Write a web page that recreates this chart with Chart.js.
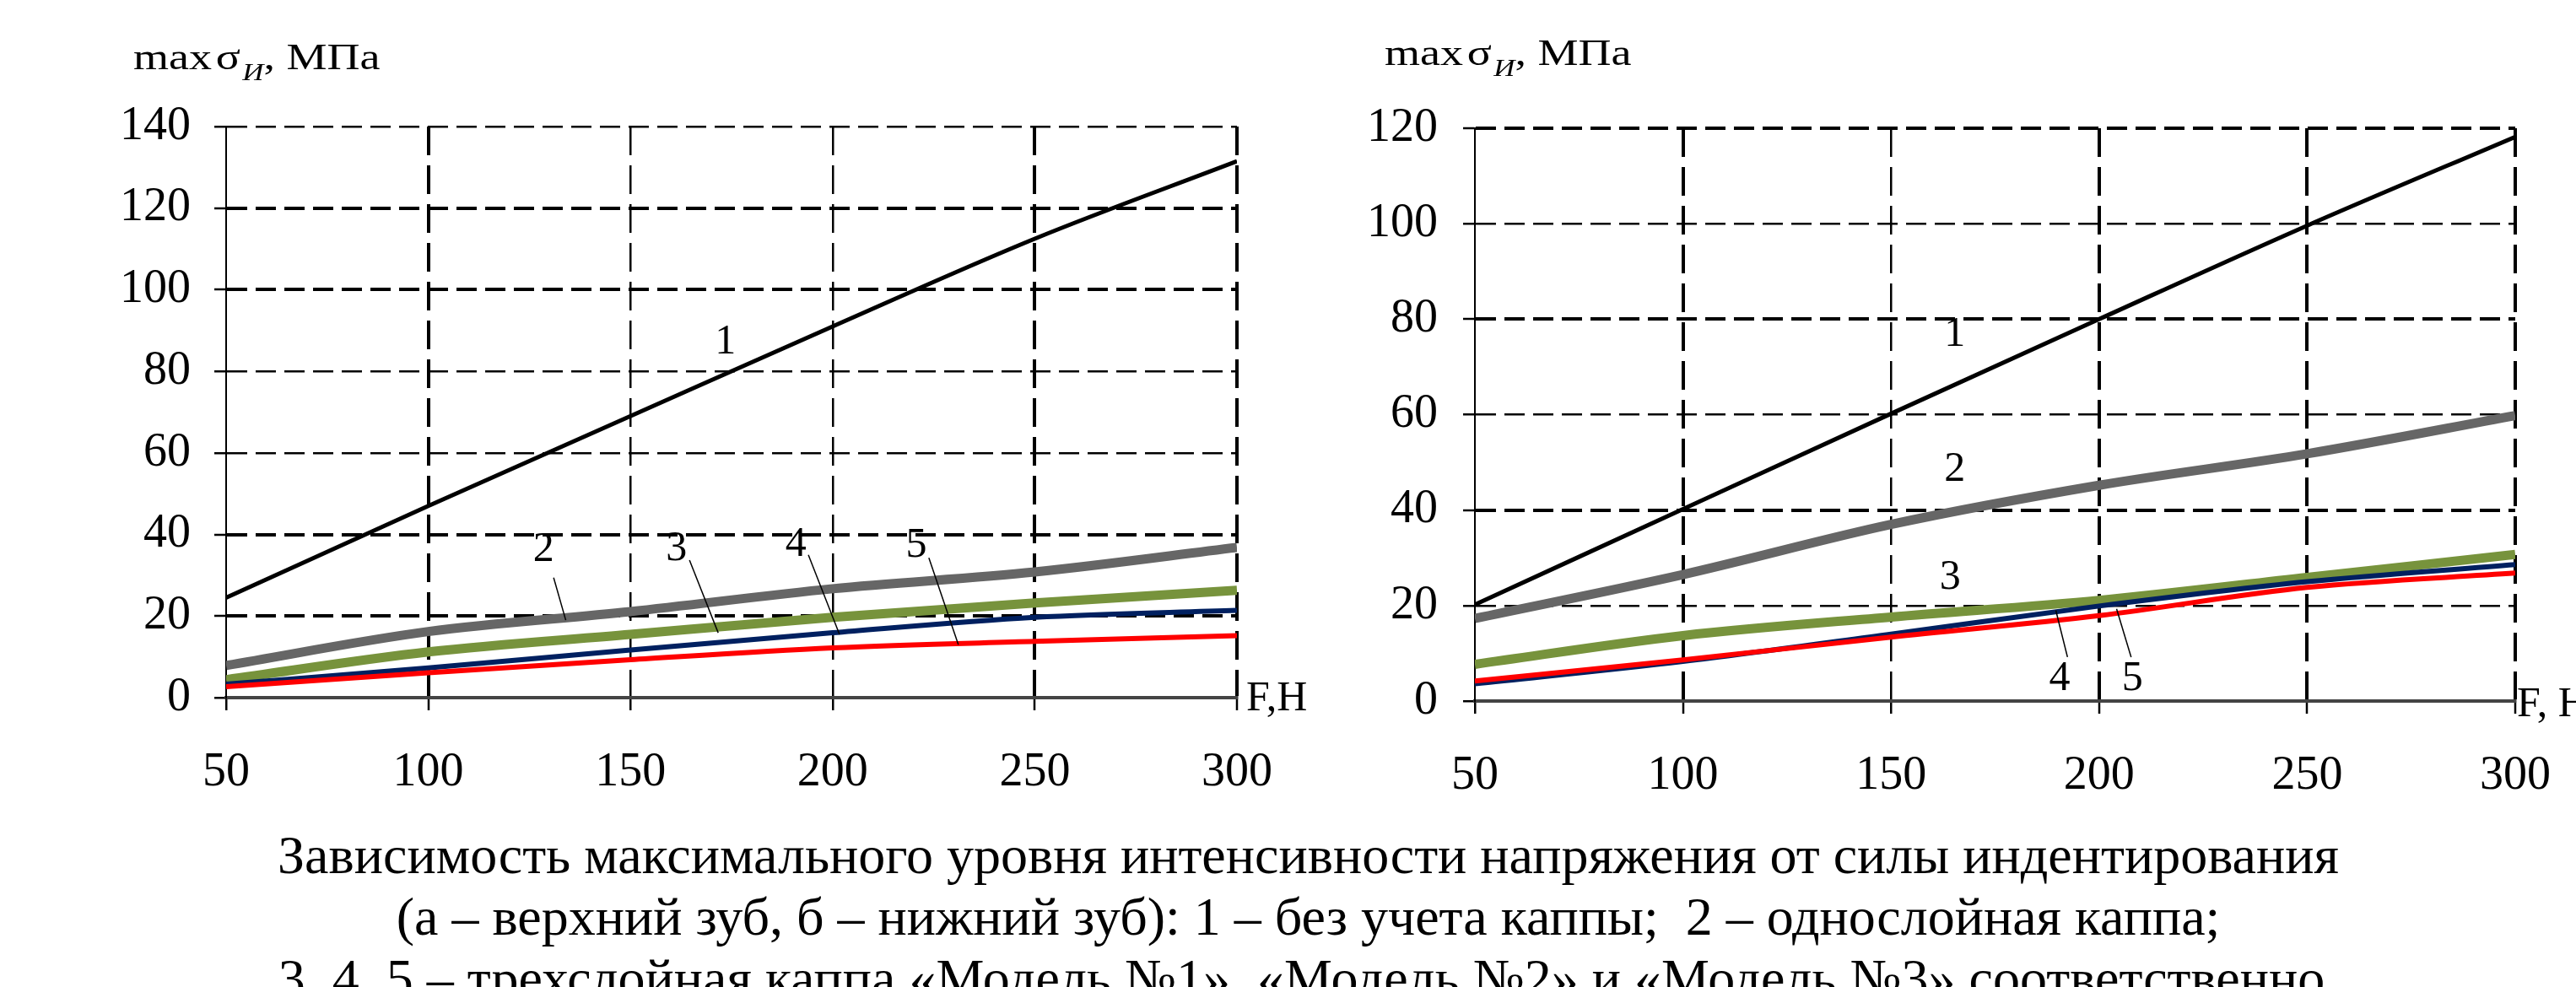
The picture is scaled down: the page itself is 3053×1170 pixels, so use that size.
<!DOCTYPE html>
<html>
<head>
<meta charset="utf-8">
<script src="https://cdn.jsdelivr.net/npm/chart.js@4.4.0/dist/chart.umd.min.js"></script>
<style>
  html, body { margin: 0; padding: 0; background: #fff; }
  body { width: 3053px; height: 1170px; position: relative; overflow: hidden;
         font-family: 'Liberation Serif', 'Times New Roman', serif; color: #000; }
  canvas { position: absolute; top: 0; }
  #upper { left: 0; }
  #lower { left: 1530px; }
  .cap { position: absolute; left: 24px; width: 3053px; text-align: center; font-size: 64px;
         line-height: 1; white-space: pre; }
</style>
</head>
<body>
<canvas id="upper" width="1620" height="960"></canvas>
<canvas id="lower" width="1523" height="960"></canvas>
<div class="cap" style="top:982px">Зависимость максимального уровня интенсивности напряжения от силы индентирования</div>
<div class="cap" style="top:1055px">(а – верхний зуб, б – нижний зуб): 1 – без учета каппы;  2 – однослойная каппа;</div>
<div class="cap" style="top:1128px">3, 4, 5 – трехслойная каппа «Модель №1», «Модель №2» и «Модель №3» соответственно.</div>

<script>
// Force F, N (x axis) and tick values
const forces = [50, 100, 150, 200, 250, 300];
const curveNames = ['1', '2', '3', '4', '5'];

// (а) upper tooth, max stress intensity, MPa
const upperNoCap     = [24.5, 47, 69, 91, 112.5, 131.5];
const upperOneLayer  = [7.9, 16.2, 21.1, 26.7, 30.8, 36.8];
const upperModel1    = [4.4, 11.2, 15.5, 19.7, 23.2, 26.3];
const upperModel2    = [3.3, 7.3, 11.7, 15.9, 19.7, 21.4];
const upperModel3    = [2.7, 6.1, 9.3, 12.2, 13.8, 15.2];

// (б) lower tooth, max stress intensity, MPa
const lowerNoCap     = [20.2, 40.2, 60.2, 80, 99.6, 118.2];
const lowerOneLayer  = [17.3, 26.5, 37, 45.2, 51.8, 59.8];
const lowerModel1    = [7.7, 13.7, 17.6, 21.1, 25.9, 30.7];
const lowerModel2    = [3.6, 8.3, 14, 19.9, 25, 28.6];
const lowerModel3    = [4.2, 8.6, 13.4, 17.9, 23.8, 26.8];

const LINE_STYLES = [
  { color: '#000000', width: 5 },
  { color: '#666666', width: 11 },
  { color: '#77933C', width: 11 },
  { color: '#002060', width: 6 },
  { color: '#FF0000', width: 6 },
];

const SERIF = "'Liberation Serif', 'Times New Roman', serif";

// Curve numbers and their leader lines, in data units
const upperLabels = {
  marks: [[173.5, 87, '1'], [128.5, 36.2, '2'], [161.4, 36.4, '3'], [190.9, 37.4, '4'], [220.7, 37.2, '5']],
  leaders: [[131, 29.4, 134, 19], [164.6, 33.7, 171.7, 15.9], [194, 35, 201.7, 15.5], [223.8, 34.3, 231.1, 13]],
};
const lowerLabels = {
  marks: [[165.3, 76.8, '1'], [165.3, 48.4, '2'], [164.2, 25.9, '3'], [190.5, 4.6, '4'], [208, 4.6, '5']],
  leaders: [[189.6, 19, 192.4, 9.2], [204.2, 19.3, 207.7, 9.2]],
};

// Draws curve numbers, leader lines, the y title and the F axis name.
const annotations = {
  id: 'annotations',
  afterDatasetsDraw(chart, args, opts) {
    const { ctx, chartArea } = chart;
    const xs = chart.scales.x, ys = chart.scales.y;
    ctx.save();
    ctx.fillStyle = '#000';
    ctx.strokeStyle = '#000';
    ctx.lineWidth = 1.5;
    opts.leaders.forEach(([x1, y1, x2, y2]) => {
      ctx.beginPath();
      ctx.moveTo(xs.getPixelForValue(x1), ys.getPixelForValue(y1));
      ctx.lineTo(xs.getPixelForValue(x2), ys.getPixelForValue(y2));
      ctx.stroke();
    });
    ctx.font = `50px ${SERIF}`;
    ctx.textAlign = 'center';
    ctx.textBaseline = 'middle';
    opts.marks.forEach(([x, y, t]) => {
      ctx.fillText(t, xs.getPixelForValue(x), ys.getPixelForValue(y));
    });

    // F axis name at the end of the x axis
    ctx.textAlign = 'left';
    ctx.textBaseline = 'alphabetic';
    ctx.font = `50px ${SERIF}`;
    ctx.fillText(opts.fName, chartArea.right + opts.fDx, chartArea.bottom + opts.fDy);

    // y title: max σ_И, МПа
    ctx.translate(opts.titleX, opts.titleY);
    ctx.scale(1.2, 1);
    ctx.font = `45px ${SERIF}`;
    ctx.fillText('max', 0, 0);
    let w = ctx.measureText('max').width + 4;
    ctx.fillText('σ', w, 0);
    w += ctx.measureText('σ').width + 2;
    ctx.font = `italic 29px ${SERIF}`;
    ctx.fillText('И', w, 13);
    w += ctx.measureText('И').width;
    ctx.font = `45px ${SERIF}`;
    ctx.fillText(', МПа', w, 0);
    ctx.restore();
  }
};

function noPadding(s) {
  s.paddingLeft = 0; s.paddingRight = 0; s.paddingTop = 0; s.paddingBottom = 0;
}

function makeChart(id, series, yMax, cfg) {
  const datasets = series.map((vals, i) => ({
    label: curveNames[i],
    data: forces.map((f, j) => ({ x: f, y: vals[j] })),
    borderColor: LINE_STYLES[i].color,
    borderWidth: LINE_STYLES[i].width,
    pointRadius: 0,
    cubicInterpolationMode: 'monotone',
    order: series.length - i,
  }));
  const tickFont = { family: SERIF, size: 56 };
  return new Chart(document.getElementById(id), {
    type: 'line',
    data: { datasets },
    plugins: [annotations],
    options: {
      responsive: false,
      animation: false,
      events: [],
      layout: { padding: { top: cfg.top, right: cfg.right, left: 0, bottom: 0 } },
      plugins: {
        legend: { display: false },
        tooltip: { enabled: false },
        annotations: cfg.labels,
      },
      scales: {
        x: {
          type: 'linear', min: 50, max: 300,
          afterFit: s => { s.height = cfg.xHeight; noPadding(s); },
          ticks: { stepSize: 50, font: tickFont, color: '#000', padding: cfg.xPad, maxRotation: 0 },
          grid: {
            color: c => c.tick && c.tick.value === 50 ? 'rgba(0,0,0,0)' : '#000',
            lineWidth: c => c.tick && cfg.boldX.includes(c.tick.value) ? 4 : 2.5,
            tickColor: '#000', tickWidth: 2.5, tickLength: 15,
          },
          border: { display: true, color: '#444', width: 4, dash: [34, 12] },
        },
        y: {
          min: 0, max: yMax,
          afterFit: s => { s.width = cfg.yWidth; noPadding(s); },
          ticks: { stepSize: 20, font: tickFont, color: '#000', padding: cfg.yPad },
          grid: {
            color: c => c.tick && c.tick.value === 0 ? 'rgba(0,0,0,0)' : '#000',
            lineWidth: c => c.tick && cfg.boldY.includes(c.tick.value) ? 4 : 2.5,
            tickColor: '#000', tickWidth: 2.5, tickLength: 14,
          },
          border: { display: true, color: '#000', width: 2, dash: [24, 10] },
        },
      },
    },
  });
}

makeChart('upper',
  [upperNoCap, upperOneLayer, upperModel1, upperModel2, upperModel3], 140,
  { top: 150, right: 154, xHeight: 133, yWidth: 268, xPad: 41, yPad: 28,
    boldX: [100, 250, 300], boldY: [20, 40, 100, 120],
    labels: Object.assign({ fName: 'F,H', fDx: 11, fDy: 15, titleX: 158, titleY: 82 }, upperLabels) });

makeChart('lower',
  [lowerNoCap, lowerOneLayer, lowerModel1, lowerModel2, lowerModel3], 120,
  { top: 152, right: 72, xHeight: 129, yWidth: 218, xPad: 41, yPad: 30,
    boldX: [100, 200, 250, 300], boldY: [40, 80, 120],
    labels: Object.assign({ fName: 'F, Н', fDx: 2, fDy: 18, titleX: 111, titleY: 77 }, lowerLabels) });
</script>
</body>
</html>
